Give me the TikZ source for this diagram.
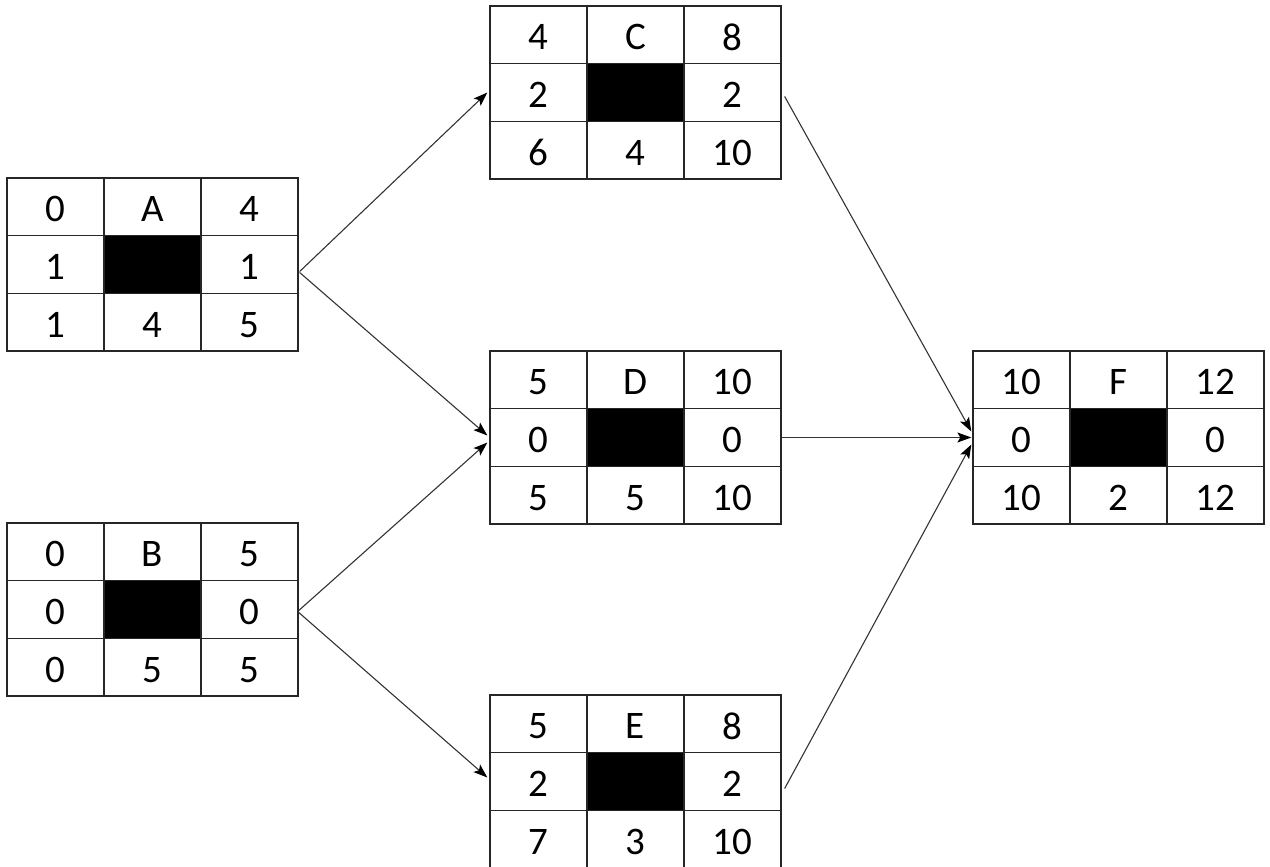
\documentclass[tikz,border=0pt]{standalone}
\usepackage{fontspec}
\setmainfont{Carlito}
\usetikzlibrary{arrows.meta}
\tikzset{
  cell/.style={draw=black!85, line width=1.3pt, minimum width=97pt, minimum height=57.67pt, inner sep=0pt, font=\fontsize{39}{39}\selectfont},
  blackcell/.style={cell, fill=black},
  outerbox/.style={draw=black!85, line width=1.3pt, minimum width=291pt, minimum height=173pt, inner sep=0pt},
  arr/.style={draw=black!80, line width=1.1pt, -{Stealth[length=14pt,width=10pt,inset=3pt,black]}}
}
\newcommand\ct[1]{\raisebox{-2.5pt}[\height][\depth]{#1}}
\newcommand\actbox[3]{\def\bn{#1}\def\bx{#2}\def\by{#3}\actboxvals}
\newcommand\actboxvals[9]{%
  \node[outerbox] (\bn) at (\bx+145.5,\by+86.5) {};
  \node[cell] (\bn-1) at (\bx+48.5,\by+28.83) {\ct{#1}};
  \node[cell] (\bn-2) at (\bx+145.5,\by+28.83) {\ct{#2}};
  \node[cell] (\bn-3) at (\bx+242.5,\by+28.83) {\ct{#3}};
  \node[cell] (\bn-4) at (\bx+48.5,\by+86.5) {\ct{#4}};
  \node[blackcell] (\bn-5) at (\bx+145.5,\by+86.5) {#5};
  \node[cell] (\bn-6) at (\bx+242.5,\by+86.5) {\ct{#6}};
  \node[cell] (\bn-7) at (\bx+48.5,\by+144.17) {\ct{#7}};
  \node[cell] (\bn-8) at (\bx+145.5,\by+144.17) {\ct{#8}};
  \node[cell] (\bn-9) at (\bx+242.5,\by+144.17) {\ct{#9}};
}
\begin{document}
\begin{tikzpicture}[x=1pt,y=-1pt]
\useasboundingbox (0,0) rectangle (1270,867);
\actbox{A}{7}{178}{0}{A}{4}{1}{}{1}{1}{4}{5}
\actbox{B}{7}{523}{0}{B}{5}{0}{}{0}{0}{5}{5}
\actbox{C}{490}{6}{4}{C}{8}{2}{}{2}{6}{4}{10}
\actbox{D}{490}{351}{5}{D}{10}{0}{}{0}{5}{5}{10}
\actbox{E}{490}{695}{5}{E}{8}{2}{}{2}{7}{3}{10}
\actbox{F}{973}{351}{10}{F}{12}{0}{}{0}{10}{2}{12}
\draw[arr] ([xshift=1pt,yshift=-7pt]A.east) -- ([xshift=-2pt,yshift=0pt]C.west);
\draw[arr] ([xshift=1pt,yshift=-8pt]A.east) -- ([xshift=-2pt,yshift=2pt]D.west);
\draw[arr] ([xshift=-1pt,yshift=-2pt]B.east) -- ([xshift=-2pt,yshift=-5pt]D.west);
\draw[arr] ([xshift=-1pt,yshift=-2pt]B.east) -- ([xshift=-2pt,yshift=4pt]E.west);
\draw[arr] ([xshift=3pt,yshift=-4pt]C.east) -- ([xshift=-1pt,yshift=6pt]F.west);
\draw[arr] (D.east) -- ([xshift=-1pt]F.west);
\draw[arr] ([xshift=3pt,yshift=-7pt]E.east) -- ([xshift=-1pt,yshift=-7pt]F.west);
\end{tikzpicture}
\end{document}
